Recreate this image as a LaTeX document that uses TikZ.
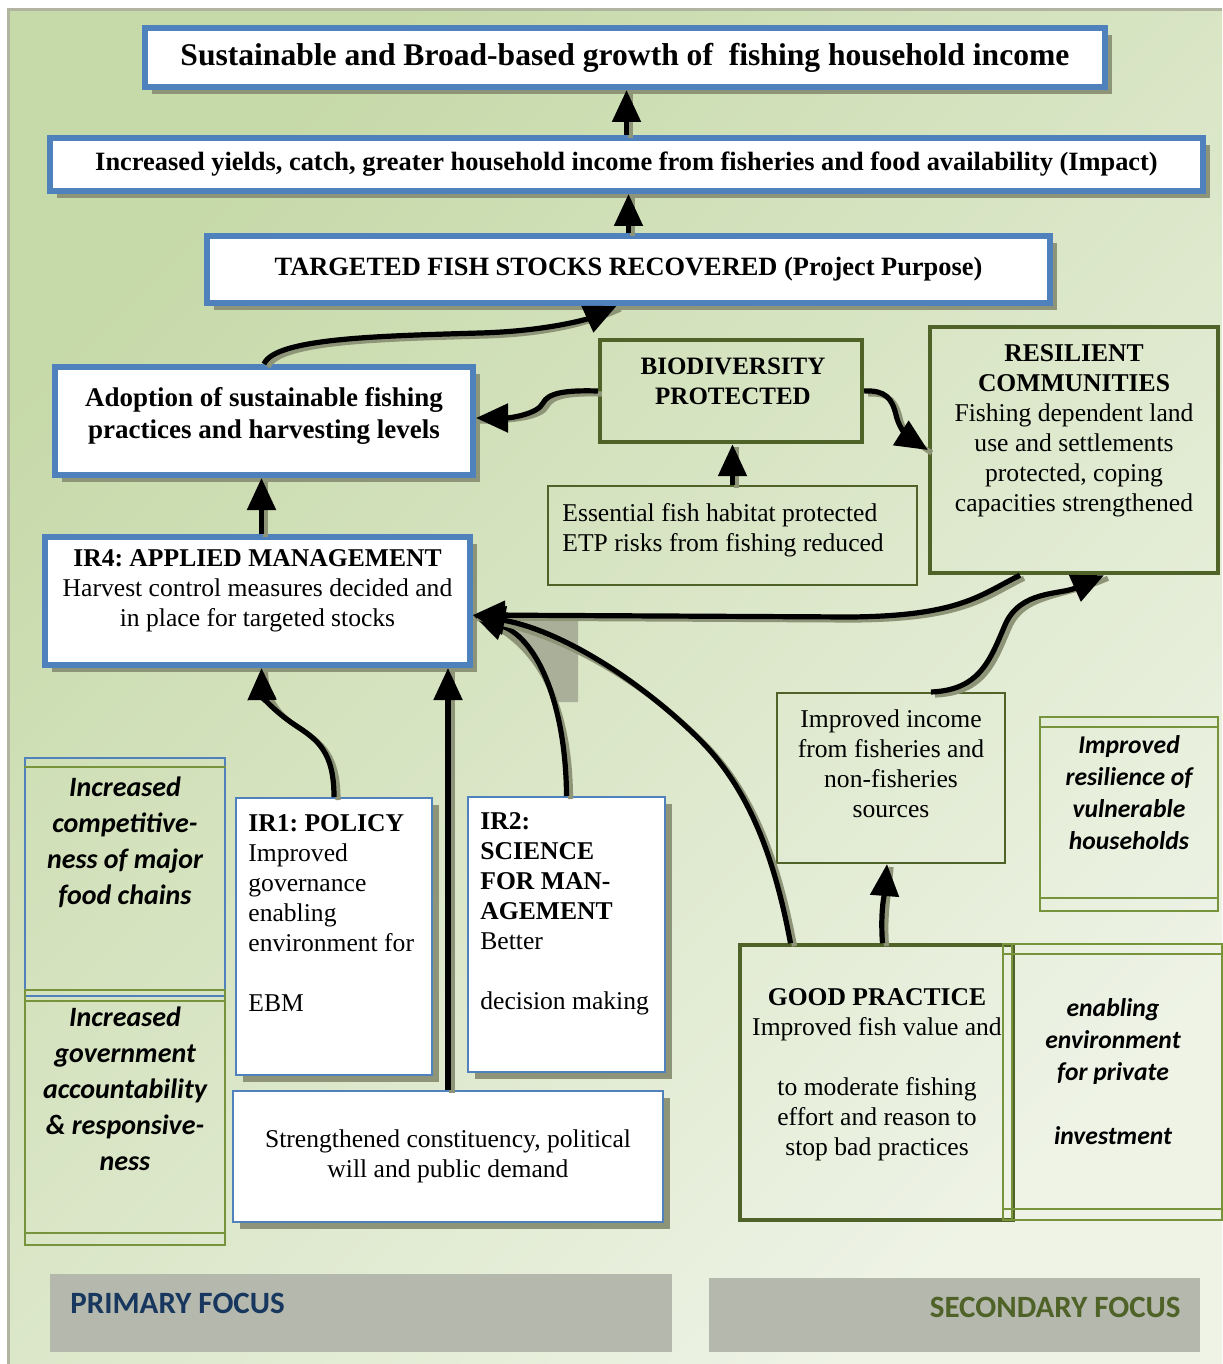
\documentclass[tikz,border=0pt]{standalone}
\usepackage{fontspec}
\setmainfont{Liberation Serif}
\newfontfamily\calfont{Carlito}
\usetikzlibrary{arrows.meta,positioning,shadows}
\frenchspacing

\definecolor{ogblue}{HTML}{4F81BD}
\definecolor{olivegreen}{HTML}{4F6228}
\definecolor{leafgreen}{HTML}{77933C}
\definecolor{bgdark}{HTML}{C6D9A8}
\definecolor{bglight}{HTML}{EEF3E6}
\definecolor{shadowgray}{HTML}{8E9477}
\definecolor{focusgray}{HTML}{B5B8AD}
\definecolor{navytext}{HTML}{17375E}

\begin{document}
\begin{tikzpicture}[x=0.5pt,y=-0.5pt,
    bluebox/.style={draw=ogblue,line width=3pt,fill=white,
        drop shadow={shadow xshift=3.5pt,shadow yshift=-3.5pt,fill=shadowgray,opacity=1}},
    thinblue/.style={draw=ogblue,line width=1pt,fill=white,
        drop shadow={shadow xshift=3.5pt,shadow yshift=-3.5pt,fill=shadowgray,opacity=1}},
    olivebox/.style={draw=olivegreen,line width=2.2pt},
    thinolive/.style={draw=olivegreen,line width=1pt},
    leafbox/.style={draw=leafgreen,line width=1.2pt},
    goaltxt/.style={font=\fontsize{15.8}{17}\selectfont\bfseries},
    hdtxt/.style={font=\fontsize{12.5}{15}\selectfont\bfseries,align=center,inner sep=0pt},
    bodytxt/.style={font=\fontsize{12.8}{15}\selectfont,align=center,inner sep=0pt},
    sanstxt/.style={font=\calfont\fontsize{14}{18}\selectfont\bfseries\itshape,align=center,inner sep=0pt},
    smallsans/.style={sanstxt,font=\calfont\fontsize{12.8}{16}\selectfont\bfseries\itshape},
    focustxt/.style={font=\calfont\fontsize{15.5}{18}\selectfont\bfseries,inner sep=0pt},
    arr/.style={line width=2.6pt,-{Triangle[length=16pt,width=14pt]},
        preaction={draw=shadowgray,line width=2.6pt,arrows=-,transform canvas={shift={(2pt,-1.5pt)}}}}
]
\useasboundingbox (0,0) rectangle (1222,1364);
% backdrop
\shade[top color=bgdark,bottom color=bglight,shading angle=45] (8,10) rectangle (1222,1364);
\draw[shadowgray!70,line width=1.5pt] (1222,10) -- (8,10) -- (8,1364);

% results chain
\node[bluebox,minimum width=480pt,minimum height=29.5pt,goaltxt] (goal) at (625,57.5) {Sustainable and Broad-based growth of \ fishing household income};
\node[bluebox,minimum width=576.5pt,minimum height=26.5pt,hdtxt,font=\fontsize{13.2}{15}\selectfont\bfseries] (impact) at (626.5,164.5) {Increased yields, catch, greater household income from fisheries and food availability (Impact)};
\node[bluebox,minimum width=421.5pt,minimum height=33.5pt,hdtxt,font=\fontsize{13.2}{15}\selectfont\bfseries] (purpose) at (628.5,269.5) {TARGETED FISH STOCKS RECOVERED (Project Purpose)};

\node[bluebox,minimum width=209pt,minimum height=54pt] (adopt) at (264,421) {};
\node[hdtxt,font=\fontsize{13.5}{16}\selectfont\bfseries,anchor=north] (adopt-t) at (264,387) {Adoption of sustainable fishing\\practices and harvesting levels};

\node[bluebox,minimum width=212.5pt,minimum height=64pt] (ir4) at (257.5,601) {};
\node[bodytxt,anchor=north] (ir4-t) at (257.5,549) {\textbf{IR4: APPLIED MANAGEMENT}\\Harvest control measures decided and\\in place for targeted stocks};

% secondary results
\node[olivebox,minimum width=131pt,minimum height=51pt] (bio) at (731,391) {};
\node[hdtxt,anchor=north] (bio-t) at (733,358) {BIODIVERSITY\\PROTECTED};

\node[thinolive,minimum width=184.5pt,minimum height=49.5pt] (habitat) at (732.5,535.5) {};
\node[bodytxt,align=left,anchor=north west] (habitat-t) at (562,503) {Essential fish habitat protected\\ETP risks from fishing reduced};

\node[olivebox,minimum width=144pt,minimum height=123pt] (resil) at (1074,450) {};
\node[bodytxt,anchor=north] (resil-t) at (1074,344) {\textbf{RESILIENT}\\\textbf{COMMUNITIES}\\Fishing dependent land\\use and settlements\\protected, coping\\capacities strengthened};

\node[thinolive,minimum width=114pt,minimum height=85pt] (income) at (891,778) {};
\node[bodytxt,anchor=north] (income-t) at (891,709) {Improved income\\from fisheries and\\non-fisheries\\sources};

\node[leafbox,minimum width=89pt,minimum height=97pt] (vuln) at (1129,814) {};
\draw[leafbox] ([yshift=-5.5pt]vuln.north west) -- ([yshift=-5.5pt]vuln.north east);
\draw[leafbox] ([yshift=7pt]vuln.south west) -- ([yshift=7pt]vuln.south east);
\node[smallsans,anchor=north] (vuln-t) at (1129,735) {Improved\\resilience of\\vulnerable\\households};

% left column
\node[draw=ogblue,line width=1pt,minimum width=100pt,minimum height=119pt] (compet) at (125,877) {};
\draw[leafbox] ([yshift=-5pt]compet.north west) -- ([yshift=-5pt]compet.north east);
\node[sanstxt,anchor=north] (compet-t) at (125,776) {Increased\\competitive-\\ness of major\\food chains};

\node[leafbox,minimum width=100pt,minimum height=127.5pt] (govt) at (125,1117.5) {};
\draw[leafbox] ([yshift=-6pt]govt.north west) -- ([yshift=-6pt]govt.north east);
\draw[leafbox] ([yshift=6.5pt]govt.south west) -- ([yshift=6.5pt]govt.south east);
\node[sanstxt,anchor=north] (govt-t) at (125,1006) {Increased\\government\\accountability\\\& responsive-\\ness};

% intermediate results
\node[thinblue,minimum width=98pt,minimum height=138.5pt] (ir1) at (334,936.5) {};
\node[bodytxt,align=left,anchor=north west] (ir1-t) at (248,814) {\textbf{IR1: POLICY}\\Improved\\governance\\enabling\\environment for\\[15pt]EBM};

\node[thinblue,minimum width=98.5pt,minimum height=137.5pt] (ir2) at (566.5,934.5) {};
\node[bodytxt,align=left,anchor=north west] (ir2-t) at (480,812) {\textbf{IR2:}\\\textbf{SCIENCE}\\\textbf{FOR MAN-}\\\textbf{AGEMENT}\\Better\\[15pt]decision making};

\node[thinblue,bodytxt,minimum width=215pt,minimum height=65.5pt] (constit) at (448,1156) {Strengthened constituency, political\\will and public demand};

\node[olivebox,line width=1.8pt,minimum width=136.5pt,minimum height=137.5pt] (good) at (876.5,1082.5) {};
\node[bodytxt,anchor=north] (good-t) at (877,988) {\textbf{GOOD PRACTICE}\\Improved fish value and\\[15pt]to moderate fishing\\effort and reason to\\stop bad practices};

\node[leafbox,minimum width=109.5pt,minimum height=138pt] (enable) at (1112.5,1082) {};
\draw[leafbox] ([yshift=-5.5pt]enable.north west) -- ([yshift=-5.5pt]enable.north east);
\draw[leafbox] ([yshift=6pt]enable.south west) -- ([yshift=6pt]enable.south east);
\draw[leafbox] ([xshift=5pt]enable.north west) -- ([xshift=5pt]enable.south west);
\node[smallsans,anchor=north] (enable-t) at (1113,998) {enabling\\environment\\for private\\[16pt]investment};

% focus bars
\node[fill=focusgray,minimum width=311pt,minimum height=39pt] (primary) at (361,1313) {};
\node[focustxt,text=navytext,anchor=west] (primary-t) at (70,1303) {PRIMARY FOCUS};
\node[fill=focusgray,minimum width=245.5pt,minimum height=37pt] (secondary) at (954.5,1315) {};
\node[focustxt,text=olivegreen,anchor=east] (secondary-t) at (1181,1307) {SECONDARY FOCUS};

% shadow wedge beside the science arrow
\fill[shadowgray!75] (505,619) -- (578,617) -- (578,702) -- (552,702) .. controls (540,665) and (525,635) .. cycle;

% arrows
\draw[arr] (impact.north) -- (impact.north |- goal.south);
\draw[arr] (purpose.north) -- (purpose.north |- impact.south);
\draw[arr] (adopt.north) .. controls (275,338) and (380,336) .. (480,333) .. controls (550,331) and (590,318) .. ([xshift=-6pt]purpose.south);
\draw[arr] (bio.west) .. controls (565,390) and (548,393) .. (543,403) .. controls (538,414) and (510,418) .. ([yshift=1.5pt]adopt.east);
\draw[arr] (bio.east) .. controls (885,390) and (892,398) .. (896,415) .. controls (900,432) and (912,440) .. (resil.west);
\draw[arr] (habitat.north) -- (habitat.north |- bio.south);
\draw[arr] ([xshift=2pt]ir4.north) -- ([xshift=2pt]ir4.north |- adopt.south);
\draw[arr] (ir1.north) .. controls (334,752) and (318,740) .. (295,725) .. controls (272,710) and (262,695) .. ([xshift=2pt]ir4.south);
\draw[arr] (constit.north) -- (constit.north |- ir4.south);
\draw[arr] (ir2.north) .. controls (566,710) and (540,640) .. ([yshift=-7pt]ir4.east);
\draw[arr] ([xshift=-27pt]resil.south) .. controls (980,595) and (960,616) .. (850,617) -- ([yshift=-7pt]ir4.east);
\draw[arr] ([xshift=-43pt]good.north) .. controls (775,860) and (750,790) .. (700,740) .. controls (640,680) and (560,630) .. ([yshift=-7pt]ir4.east);
\draw[arr] ([xshift=20pt]income.north) .. controls (980,690) and (990,660) .. (1005,625) .. controls (1020,590) and (1060,595) .. ([xshift=15pt]resil.south);
\draw[arr] ([xshift=3pt]good.north) .. controls (880,910) and (885,890) .. ([xshift=-2pt]income.south);
\end{tikzpicture}
\end{document}
